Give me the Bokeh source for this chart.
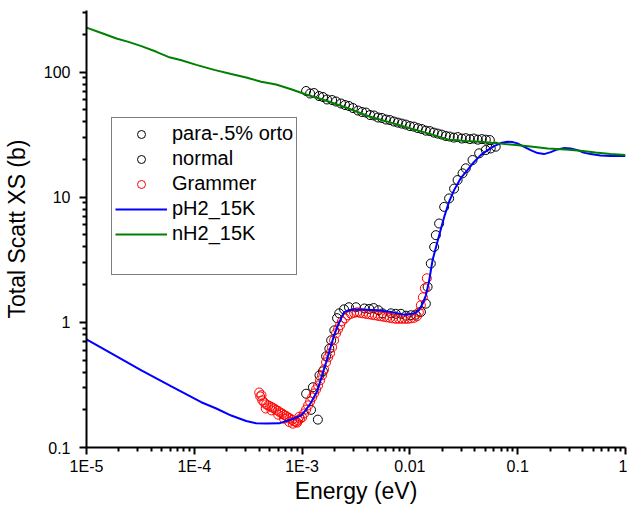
from bokeh.plotting import figure
from bokeh.models import Legend, LegendItem, FixedTicker, CustomJSTickFormatter
from bokeh.embed import file_html
from bokeh.resources import INLINE

# ---------------- data ----------------
para_E = [1.09e-3, 1.21e-3, 1.26e-3, 1.40e-3, 1.45e-3, 1.56e-3, 1.67e-3, 1.79e-3, 1.86e-3,
          1.99e-3, 2.11e-3, 2.21e-3, 2.45e-3, 2.72e-3, 3.16e-3, 3.78e-3, 4.2e-3, 4.61e-3,
          5.1e-3, 5.58e-3, 6.67e-3, 7.4e-3, 8.26e-3, 9.2e-3, 1.02e-2, 1.13e-2, 1.265e-2,
          1.406e-2, 1.459e-2, 1.563e-2, 1.679e-2, 1.742e-2, 1.866e-2, 2.08e-2, 2.31e-2,
          2.57e-2, 2.77e-2, 3.08e-2, 3.30e-2, 3.81e-2, 4.39e-2, 5.06e-2, 5.62e-2, 6.25e-2]
para_XS = [0.269, 0.200, 0.303, 0.167, 0.377, 0.406, 0.535, 0.616, 0.718,
           0.863, 1.08, 1.18, 1.27, 1.32, 1.32, 1.29, 1.28, 1.30,
           1.25, 1.18, 1.18, 1.17, 1.17, 1.13, 1.14, 1.15, 1.21,
           1.41, 1.92, 2.95, 4.0, 4.97, 6.16, 8.36, 9.77,
           11.7, 13.7, 15.5, 17.0, 19.8, 22.4, 23.8, 24.5, 25.3]

normal_E = [1.089e-3, 1.186e-3, 1.291e-3, 1.435e-3, 1.563e-3, 1.702e-3, 1.897e-3, 2.065e-3,
            2.296e-3, 2.500e-3, 2.722e-3, 2.963e-3, 3.30e-3, 3.60e-3, 3.92e-3, 4.27e-3,
            4.65e-3, 5.06e-3, 5.51e-3, 6.00e-3, 6.53e-3, 7.11e-3, 7.74e-3, 8.43e-3, 9.18e-3,
            1.000e-2, 1.089e-2, 1.186e-2, 1.291e-2, 1.406e-2, 1.531e-2, 1.667e-2, 1.815e-2,
            1.977e-2, 2.154e-2, 2.344e-2, 2.553e-2, 2.78e-2, 3.03e-2, 3.30e-2, 3.60e-2,
            3.92e-2, 4.27e-2, 4.65e-2, 5.06e-2, 5.51e-2]
normal_XS = [70.5, 67.3, 67.9, 64.3, 63.1, 60.3, 59.7, 58.1,
             56.0, 54.5, 53.5, 51.5, 49.2, 47.9, 47.4, 45.3,
             44.9, 43.3, 42.9, 41.7, 41.3, 40.2, 39.4, 38.7, 38.0,
             37.0, 36.6, 35.6, 35.0, 34.0, 33.7, 32.8, 32.2,
             31.6, 30.8, 30.5, 29.9, 30.2, 29.4, 29.6, 29.1,
             29.4, 28.8, 29.1, 28.8, 28.6]

grammer_E = [4.00e-4, 4.09e-4, 4.2e-4, 4.27e-4, 4.45e-4, 4.6e-4, 4.64e-4, 4.84e-4, 5.06e-4,
             5.2e-4, 5.27e-4, 5.50e-4, 5.74e-4, 5.99e-4, 6.0e-4, 6.25e-4, 6.53e-4, 6.8e-4,
             6.81e-4, 7.11e-4, 7.41e-4, 7.6e-4, 7.74e-4, 8.07e-4, 8.2e-4, 8.43e-4, 8.80e-4,
             9.0e-4, 9.18e-4, 9.4e-4, 9.58e-4,
             1.000e-3, 1.044e-3, 1.089e-3, 1.137e-3, 1.186e-3, 1.238e-3, 1.292e-3, 1.348e-3,
             1.407e-3, 1.468e-3, 1.532e-3, 1.599e-3, 1.668e-3, 1.741e-3, 1.817e-3, 1.896e-3,
             1.979e-3, 2.065e-3, 2.154e-3, 2.248e-3, 2.346e-3, 2.50e-3, 2.66e-3, 2.84e-3,
             3.03e-3, 3.23e-3, 3.44e-3, 3.67e-3, 3.92e-3, 4.17e-3, 4.45e-3, 4.74e-3,
             5.06e-3, 5.39e-3, 5.74e-3, 6.12e-3, 6.53e-3, 6.96e-3, 7.42e-3, 7.91e-3,
             8.43e-3, 8.99e-3, 9.58e-3, 1.021e-2, 1.089e-2, 1.161e-2, 1.211e-2, 1.264e-2,
             1.319e-2, 1.376e-2, 1.436e-2]
grammer_XS = [0.275, 0.256, 0.262, 0.238, 0.229, 0.205, 0.221, 0.217, 0.213,
              0.198, 0.209, 0.205, 0.1995, 0.196, 0.183, 0.1905, 0.187, 0.170,
              0.182, 0.1786, 0.174, 0.160, 0.1706, 0.166, 0.155, 0.1614, 0.160,
              0.158, 0.1644, 0.176, 0.170,
              0.174, 0.187, 0.201, 0.217, 0.233, 0.251, 0.270, 0.291,
              0.313, 0.344, 0.377, 0.421, 0.479, 0.525, 0.565, 0.631,
              0.718, 0.817, 0.879, 0.946, 1.019, 1.076, 1.138, 1.17,
              1.191, 1.202, 1.191, 1.180, 1.17, 1.159, 1.148, 1.138,
              1.127, 1.117, 1.107, 1.096, 1.086, 1.076, 1.067, 1.067,
              1.067, 1.067, 1.067, 1.076, 1.086, 1.117, 1.202, 1.368,
              1.585, 1.871, 2.249]

pH2_E = [1e-5, 1.70e-5, 3.23e-5, 6.12e-5, 1.16e-4, 1.60e-4, 2.20e-4, 3.03e-4, 3.75e-4,
         4.64e-4, 6.12e-4, 7.91e-4, 9.80e-4, 1.09e-3, 1.21e-3, 1.38e-3, 1.50e-3, 1.67e-3,
         1.86e-3, 1.98e-3, 2.15e-3, 2.30e-3, 2.45e-3, 2.67e-3, 3.03e-3, 3.92e-3, 5.06e-3,
         6.67e-3, 8.79e-3, 1.089e-2, 1.211e-2, 1.318e-2, 1.406e-2, 1.50e-2, 1.622e-2,
         1.815e-2, 2.08e-2, 2.30e-2, 2.57e-2, 2.96e-2, 3.42e-2, 3.92e-2, 4.54e-2, 5.27e-2,
         6.04e-2, 6.97e-2, 8.04e-2, 9.0e-2, 9.94e-2, 0.1138, 0.1318, 0.1531, 0.1754,
         0.2023, 0.2334, 0.2667, 0.3097, 0.3597, 0.4084, 0.4743, 0.5875, 0.7262, 1.0]
pH2_XS = [0.731, 0.565, 0.413, 0.308, 0.230, 0.205, 0.180, 0.163, 0.156,
          0.1556, 0.156, 0.1675, 0.180, 0.201, 0.229, 0.281, 0.356, 0.479,
          0.655, 0.787, 0.946, 1.076, 1.202, 1.247, 1.264, 1.259, 1.247,
          1.209, 1.152, 1.174, 1.247, 1.419, 1.644, 2.089, 3.13,
          4.53, 6.95, 9.12, 11.38, 14.19, 16.44, 19.05, 21.68, 23.77,
          25.59, 27.04, 27.70, 27.54, 26.9, 25.35, 23.77, 22.49, 22.08,
          22.91, 24.07, 24.66, 24.53, 23.77, 22.70, 22.08, 21.48, 21.28, 21.28]

nH2_E = [1e-5, 1.377e-5, 1.897e-5, 2.45e-5, 3.23e-5, 4.45e-5, 5.74e-5, 7.59e-5, 1.044e-4,
         1.531e-4, 2.20e-4, 3.03e-4, 4.17e-4, 5.74e-4, 7.91e-4, 1.089e-3, 1.60e-3, 2.55e-3,
         4.08e-3, 6.67e-3, 1.021e-2, 1.563e-2, 2.25e-2, 3.30e-2, 4.54e-2, 6.53e-2, 9.58e-2,
         0.1318, 0.1897, 0.278, 0.383, 0.527, 0.726, 1.0]
nH2_XS = [226, 205, 185, 174, 161, 145, 132, 124, 114,
          104, 96.4, 90.4, 83.6, 79.4, 72.8, 66.1, 59.7, 52.0,
          44.5, 39.4, 35.4, 31.9, 28.9, 28.05, 27.70, 26.9, 26.06,
          25.35, 24.53, 23.99, 23.46, 22.70, 22.08, 21.68]

x_ticks = [1e-5, 1e-4, 1e-3, 1e-2, 1e-1, 1.0]
x_tick_labels = ["1E-5", "1E-4", "1E-3", "0.01", "0.1", "1"]
y_ticks = [0.1, 1.0, 10.0, 100.0]
y_tick_labels = ["0.1", "1", "10", "100"]
minor_mult = [2, 3, 4, 5, 6, 7, 8, 9]

x_minor = [m * d for d in x_ticks[:-1] for m in minor_mult]
y_minor = [m * d for d in y_ticks for m in minor_mult if m * d < 310]

FONT = "Liberation Sans"
NAN = float("nan")

p = figure(width=627, height=512, x_axis_type="log", y_axis_type="log",
           x_range=(1e-5, 1.0), y_range=(0.1, 310),
           output_backend="svg", toolbar_location=None,
           min_border_left=85, min_border_right=2, min_border_top=10, min_border_bottom=65,
           x_axis_label="Energy (eV)", y_axis_label="Total Scatt XS (b)")
p.outline_line_color = None
p.grid.visible = False
p.background_fill_color = "white"
p.border_fill_color = "white"

r_para = p.scatter(para_E, para_XS, marker="circle", size=9, fill_color=None,
                   line_color="black", line_width=1)
r_norm = p.scatter(normal_E, normal_XS, marker="circle", size=9, fill_color=None,
                   line_color="black", line_width=1)
r_gram = p.scatter(grammer_E, grammer_XS, marker="circle", size=9, fill_color=None,
                   line_color="#FF0000", line_width=1)
r_p = p.line(pH2_E, pH2_XS, line_color="#0000FF", line_width=2)
r_n = p.line(nH2_E, nH2_XS, line_color="#008000", line_width=2)

# legend proxies (smaller markers in the legend, no visible data)
l_para = p.scatter([NAN], [NAN], marker="circle", size=6, fill_color=None, line_color="black", line_width=1)
l_norm = p.scatter([NAN], [NAN], marker="circle", size=6, fill_color=None, line_color="black", line_width=1)
l_gram = p.scatter([NAN], [NAN], marker="circle", size=6, fill_color=None, line_color="#FF0000", line_width=1)
l_blank = p.scatter([NAN], [NAN], marker="circle", size=1, fill_alpha=0, line_alpha=0)

legend = Legend(items=[
    LegendItem(label="para-.5% orto", renderers=[l_para]),
    LegendItem(label="normal", renderers=[l_norm]),
    LegendItem(label="Grammer", renderers=[l_gram]),
    LegendItem(label="pH2_15K", renderers=[r_p]),
    LegendItem(label="nH2_15K", renderers=[r_n]),
    LegendItem(label=" ", renderers=[l_blank]),
], location=(25, 172))
legend.border_line_color = "black"
legend.border_line_width = 1
legend.background_fill_color = "white"
legend.background_fill_alpha = 1
legend.padding = 3
legend.margin = 0
legend.spacing = 0
legend.label_height = 25
legend.glyph_height = 20
legend.glyph_width = 52
legend.label_standoff = 5
legend.label_text_font = FONT
legend.label_text_font_size = "20px"
legend.label_text_color = "black"
p.add_layout(legend)

p.xaxis.ticker = FixedTicker(ticks=x_ticks, minor_ticks=x_minor)
p.yaxis.ticker = FixedTicker(ticks=y_ticks, minor_ticks=y_minor)

fmt_code = """
for (let i = 0; i < tvals.length; i++) {
  if (Math.abs(Math.log10(tick) - Math.log10(tvals[i])) < 1e-6) { return tlabels[i]; }
}
return "";
"""
p.xaxis.formatter = CustomJSTickFormatter(args=dict(tvals=x_ticks, tlabels=x_tick_labels), code=fmt_code)
p.yaxis.formatter = CustomJSTickFormatter(args=dict(tvals=y_ticks, tlabels=y_tick_labels), code=fmt_code)

for ax in (p.xaxis[0], p.yaxis[0]):
    ax.axis_line_width = 2
    ax.axis_line_color = "black"
    ax.major_tick_line_width = 2
    ax.minor_tick_line_width = 2
    ax.major_tick_line_color = "black"
    ax.minor_tick_line_color = "black"
    ax.major_tick_out = 7
    ax.major_tick_in = 0
    ax.minor_tick_out = 4
    ax.minor_tick_in = 0
    ax.major_label_text_font = FONT
    ax.major_label_text_font_size = "16px"
    ax.major_label_text_color = "black"
    ax.axis_label_text_font = FONT
    ax.axis_label_text_font_size = "23px"
    ax.axis_label_text_font_style = "normal"
    ax.axis_label_text_color = "black"

p.xaxis.major_label_standoff = 3
p.yaxis.major_label_standoff = 9
p.xaxis.axis_label_standoff = 0
p.yaxis.axis_label_standoff = 11

open("out.html", "w").write(file_html(p, INLINE))
